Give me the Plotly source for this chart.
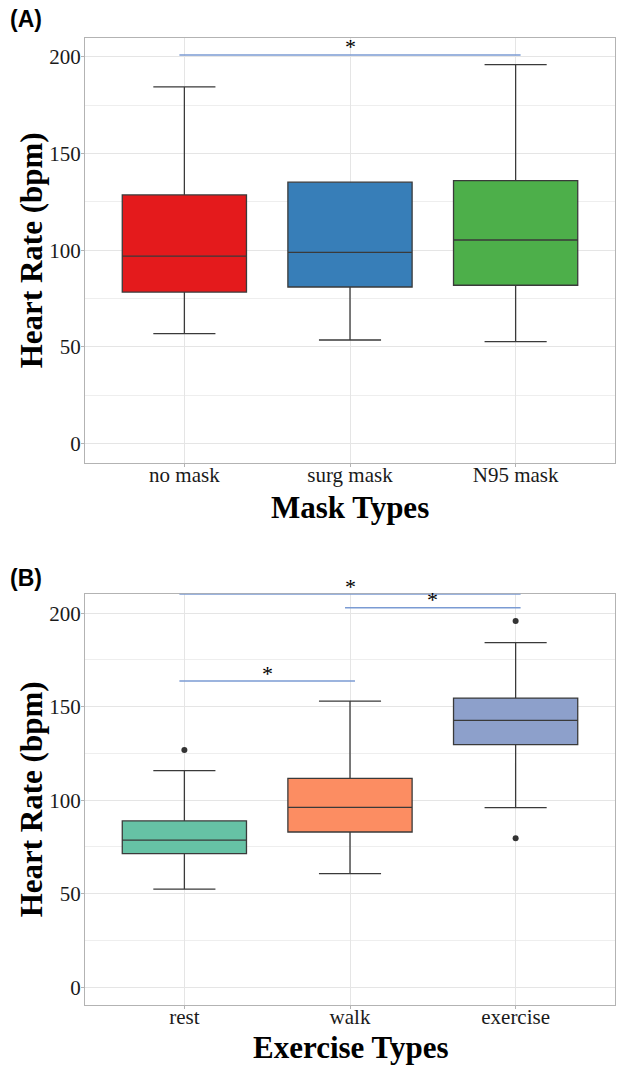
import plotly.graph_objects as go
from plotly.subplots import make_subplots

# ---------------- data ----------------
mask_types = ["no mask", "surg mask", "N95 mask"]
mask_q1 = [78.4, 81.0, 81.9]
mask_median = [97.0, 98.9, 105.3]
mask_q3 = [128.6, 135.2, 136.0]
mask_low = [56.9, 53.6, 52.8]
mask_high = [184.5, 135.2, 196.0]
mask_colors = ["#E41A1C", "#377EB8", "#4DAF4A"]

exercise_types = ["rest", "walk", "exercise"]
ex_q1 = [71.4, 83.0, 129.7]
ex_median = [78.6, 96.2, 142.7]
ex_q3 = [88.9, 111.7, 154.6]
ex_low = [52.5, 60.7, 96.0]
ex_high = [115.8, 153.0, 184.2]
ex_colors = ["#66C2A5", "#FC8D62", "#8DA0CB"]
ex_outlier_x = ["rest", "exercise", "exercise"]
ex_outlier_y = [126.8, 195.8, 79.6]

# significance comparisons: (group index from, group index to, bar height)
mask_sig = [(0, 2, 201.0)]
ex_sig = [(0, 2, 210.2), (1, 2, 202.9), (0, 1, 163.7)]

y_ticks = [0, 50, 100, 150, 200]

# ---------------- figure ----------------
W, H = 619, 1065
fig = make_subplots(rows=2, cols=1)

def add_boxes(row, cats, q1, med, q3, lo, hi, colors):
    for i, c in enumerate(cats):
        fig.add_trace(go.Box(
            x=[c], q1=[q1[i]], median=[med[i]], q3=[q3[i]],
            lowerfence=[lo[i]], upperfence=[hi[i]],
            width=0.75, fillcolor=colors[i],
            line=dict(color="#3a3a3a", width=1.3),
            boxpoints=False, showlegend=False, hoverinfo="skip",
        ), row=row, col=1)

add_boxes(1, mask_types, mask_q1, mask_median, mask_q3, mask_low, mask_high, mask_colors)
add_boxes(2, exercise_types, ex_q1, ex_median, ex_q3, ex_low, ex_high, ex_colors)

fig.add_trace(go.Scatter(
    x=ex_outlier_x, y=ex_outlier_y, mode="markers",
    marker=dict(color="#333333", size=6), showlegend=False,
    hoverinfo="skip", cliponaxis=False,
), row=2, col=1)

bar_color = "#7b9bd3"
def add_sig(xref, yref, sigs):
    for a, b, h in sigs:
        fig.add_shape(type="line", xref=xref, yref=yref,
                      x0=a - 0.03, x1=b + 0.03, y0=h, y1=h,
                      line=dict(color=bar_color, width=1.5))
        fig.add_annotation(xref=xref, yref=yref, x=(a + b) / 2, y=h,
                           text="*", showarrow=False, yanchor="middle", yshift=8,
                           font=dict(family="Liberation Serif", size=22, color="black"))

add_sig("x", "y", mask_sig)
add_sig("x2", "y2", ex_sig)

# layout geometry (pixels)
pl, pr = 85, 615
a_top, a_bot = 37.5, 463
b_top, b_bot = 593.7, 1005

axis_common = dict(
    showline=True, mirror=True, linecolor="#b3b3b3", linewidth=1,
    showgrid=True, gridcolor="#e5e5e5", gridwidth=1,
    ticks="outside", ticklen=3, tickcolor="#b3b3b3",
    tickfont=dict(family="Liberation Serif", size=21, color="#1a1a1a"),
    zeroline=False,
)

fig.update_xaxes(**axis_common, ticklabelstandoff=-10)
fig.update_yaxes(**axis_common, ticklabelstandoff=-4)
fig.update_xaxes(range=[-0.6, 2.6], categoryorder="array", categoryarray=mask_types,
                 domain=[0, 1], row=1, col=1)
fig.update_xaxes(range=[-0.6, 2.6], categoryorder="array", categoryarray=exercise_types,
                 domain=[0, 1], row=2, col=1)
fig.update_yaxes(range=[-10, 210], tickvals=y_ticks,
                 minor=dict(dtick=25, tick0=0, showgrid=True, gridcolor="#eeeeee", ticks=""),
                 domain=[1 - a_bot / H, 1 - a_top / H], row=1, col=1)
fig.update_yaxes(range=[-9.5, 210.4], tickvals=y_ticks,
                 minor=dict(dtick=25, tick0=0, showgrid=True, gridcolor="#eeeeee", ticks=""),
                 domain=[1 - b_bot / H, 1 - b_top / H], row=2, col=1)

def px_x(p):
    return (p - pl) / (pr - pl)

def px_y(p):
    return 1 - p / H

title_font = dict(family="Liberation Serif", size=31, color="black")
ann = [
    dict(text="<b>(A)</b>", x=px_x(8), y=px_y(19), xanchor="left", yanchor="middle",
         font=dict(family="Liberation Sans", size=23, color="black")),
    dict(text="<b>(B)</b>", x=px_x(8), y=px_y(578), xanchor="left", yanchor="middle",
         font=dict(family="Liberation Sans", size=23, color="black")),
    dict(text="<b>Heart Rate (bpm)</b>", x=px_x(31), y=px_y((a_top + a_bot) / 2),
         textangle=-90, xanchor="center", yanchor="middle", font=title_font),
    dict(text="<b>Heart Rate (bpm)</b>", x=px_x(31), y=px_y((b_top + b_bot) / 2),
         textangle=-90, xanchor="center", yanchor="middle", font=title_font),
    dict(text="<b>Mask Types</b>", x=px_x(350), y=px_y(507), xanchor="center",
         yanchor="middle", font=title_font),
    dict(text="<b>Exercise Types</b>", x=px_x(350), y=px_y(1047), xanchor="center",
         yanchor="middle", font=title_font),
]
for a in ann:
    fig.add_annotation(xref="paper", yref="paper", showarrow=False, **a)

fig.update_layout(
    width=W, height=H,
    margin=dict(l=pl, r=W - pr, t=0, b=0),
    paper_bgcolor="white", plot_bgcolor="white",
    showlegend=False,
)

fig.write_html("out.html")
